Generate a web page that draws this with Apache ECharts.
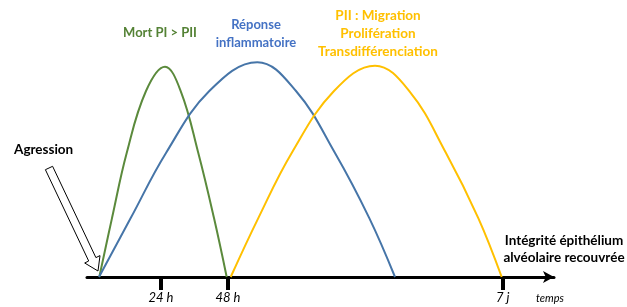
<!DOCTYPE html>
<html lang="fr">
<head>
<meta charset="UTF-8">
<title>Réparation alvéolaire</title>
<style>
  html, body { margin: 0; padding: 0; background: #fff; }
  #chart { width: 627px; height: 307px; }
</style>
</head>
<body>
<div id="chart"></div>
<script src="https://cdn.jsdelivr.net/npm/echarts@6/dist/echarts.min.js"></script>
<script>
// échelle de temps schématique (unités arbitraires), intensité 0-100
var tickPos = [74, 141, 415.7];
var tickNames = ['24 h', '48 h', '7 j'];

var mortX = [12.3, 25, 39.7, 59, 78, 93.7, 111.3, 127, 139.7];
var mortY = [0, 27.4, 57.7, 86.5, 97.8, 86.5, 57.7, 27.4, 0];

var inflamX = [12, 43.7, 79, 122.3, 170.3, 209, 248, 282.3, 308];
var inflamY = [0, 27.4, 57.7, 86.5, 99.9, 86.5, 57.7, 27.4, 0];

var piiX = [143.7, 171.3, 204.7, 247, 288, 322.3, 359, 391.3, 414.7];
var piiY = [0, 27.4, 57.7, 86.5, 98.3, 86.5, 57.7, 27.4, 0];

function pairs(xs, ys) {
  return xs.map(function (x, i) { return [x, ys[i]]; });
}

var font = 'Lato, "Open Sans", sans-serif';
var chart = echarts.init(document.getElementById('chart'));

function curve(name, xs, ys, color) {
  return {
    name: name,
    type: 'line',
    data: pairs(xs, ys),
    smooth: 0.4,
    showSymbol: false,
    lineStyle: { color: color, width: 2 },
    z: 3
  };
}

chart.setOption({
  animation: false,
  grid: { left: 87, right: 73, top: 62, bottom: 30 },
  xAxis: {
    type: 'value',
    min: 0,
    max: 467,
    splitLine: { show: false },
    axisLine: {
      onZero: false,
      symbol: ['none', 'arrow'],
      symbolSize: [9, 11],
      lineStyle: { color: '#000', width: 3 }
    },
    axisTick: {
      customValues: tickPos,
      length: 13,
      inside: false,
      lineStyle: { color: '#000', width: 4 }
    },
    axisLabel: {
      customValues: tickPos,
      margin: 14,
      fontFamily: font,
      fontStyle: 'italic',
      fontSize: 13,
      color: '#000',
      formatter: function (v) {
        var i = tickPos.indexOf(v);
        return i >= 0 ? tickNames[i] : '';
      }
    }
  },
  yAxis: { type: 'value', min: 0, max: 100, show: false },
  series: [
    curve('Mort PI > PII', mortX, mortY, '#5b8a3c'),
    curve('Réponse inflammatoire', inflamX, inflamY, '#4675a8'),
    curve('PII', piiX, piiY, '#ffc000')
  ],
  graphic: [
    {
      type: 'polygon',
      shape: {
        points: [[52.6, 166.3], [95.9, 257.6], [100, 255.6], [98, 271],
                 [84.7, 263], [88.7, 261], [45.4, 169.7]]
      },
      style: { fill: '#fff', stroke: '#000', lineWidth: 1 },
      z: 10
    },
    {
      type: 'text', left: 14, top: 143,
      style: { text: 'Agression', font: 'bold 13.5px ' + font, fill: '#000' }
    },
    {
      type: 'text', x: 160, y: 33,
      style: { text: 'Mort PI > PII', font: 'bold 13px ' + font, fill: '#548235',
               align: 'center', verticalAlign: 'middle' }
    },
    {
      type: 'text', x: 256, y: 34,
      style: { text: 'Réponse\ninflammatoire', font: 'bold 13px ' + font, fill: '#4472c4',
               align: 'center', verticalAlign: 'middle', lineHeight: 18 }
    },
    {
      type: 'text', x: 378, y: 34,
      style: { text: 'PII : Migration\nProlifération\nTransdifférenciation',
               font: 'bold 13.5px ' + font, fill: '#ffc000',
               align: 'center', verticalAlign: 'middle', lineHeight: 18 }
    },
    {
      type: 'text', x: 564, y: 249,
      style: { text: 'Intégrité épithélium\nalvéolaire recouvrée',
               font: 'bold 13.5px ' + font, fill: '#000',
               align: 'center', verticalAlign: 'middle', lineHeight: 17 }
    },
    {
      type: 'text', x: 550, y: 298,
      style: { text: 'temps', font: 'italic 11px ' + font, fill: '#000',
               align: 'center', verticalAlign: 'middle' }
    }
  ]
});
</script>
</body>
</html>
